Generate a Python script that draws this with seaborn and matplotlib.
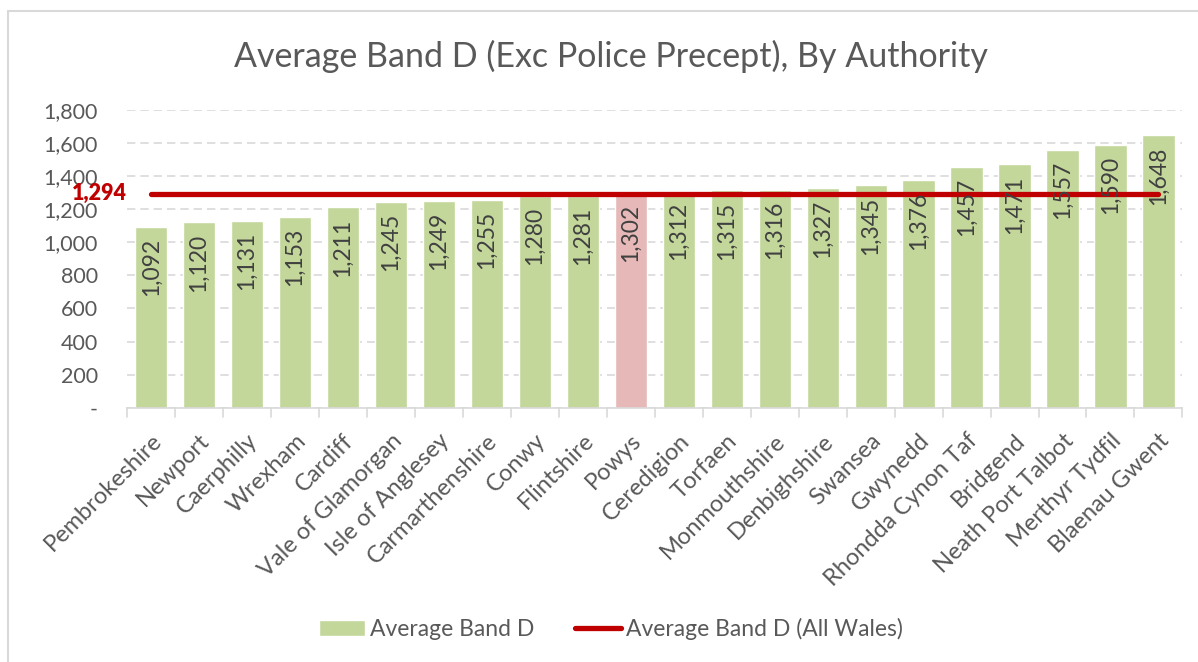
import numpy as np
import pandas as pd
import seaborn as sns
import matplotlib.pyplot as plt
from matplotlib.patches import Rectangle
from matplotlib.lines import Line2D
from matplotlib.ticker import FuncFormatter, FixedLocator

authorities = ['Pembrokeshire', 'Newport', 'Caerphilly', 'Wrexham', 'Cardiff',
               'Vale of Glamorgan', 'Isle of Anglesey', 'Carmarthenshire', 'Conwy',
               'Flintshire', 'Powys', 'Ceredigion', 'Torfaen', 'Monmouthshire',
               'Denbighshire', 'Swansea', 'Gwynedd', 'Rhondda Cynon Taf', 'Bridgend',
               'Neath Port Talbot', 'Merthyr Tydfil', 'Blaenau Gwent']
band_d = [1092, 1120, 1131, 1153, 1211, 1245, 1249, 1255, 1280, 1281, 1302,
          1312, 1315, 1316, 1327, 1345, 1376, 1457, 1471, 1557, 1590, 1648]
all_wales = 1294
highlight = 'Powys'

green = '#C4D79B'
pink = '#E6B9B8'
red = '#C00000'
grey_txt = '#595959'

sns.set_style('white')
plt.rcParams['font.family'] = ['Lato', 'DejaVu Sans']

df = pd.DataFrame({'Authority': authorities, 'Band D': band_d})
palette = {a: (pink if a == highlight else green) for a in authorities}

fig = plt.figure(figsize=(11.98, 6.62), dpi=100)
ax = fig.add_axes([0.106, 0.384, 0.881, 0.45])

sns.barplot(data=df, x='Authority', y='Band D', hue='Authority', palette=palette,
            legend=False, width=0.67, saturation=1, ax=ax, zorder=2)

pos = np.arange(len(authorities))
sns.lineplot(x=pos, y=[all_wales] * len(pos), color=red, linewidth=3.8,
             solid_capstyle='round', ax=ax, zorder=4)

for i, v in enumerate(band_d):
    ax.annotate(f'{v:,}', (i, v), xytext=(0, -8), textcoords='offset points',
                rotation=90, ha='center', va='top', fontsize=16.5, color='#404040', zorder=5)

ax.text(-0.5, all_wales, f'{all_wales:,}', color=red, fontsize=15.5, fontweight='heavy',
        ha='right', va='center', transform=ax.transData, zorder=5)

ax.set_ylim(0, 1800)
ax.set_xlim(-0.5, len(authorities) - 0.5)
ax.yaxis.set_major_locator(FixedLocator(range(0, 1801, 200)))
ax.yaxis.set_major_formatter(FuncFormatter(lambda v, p: '-' if v == 0 else f'{int(v):,}'))
ax.grid(axis='y', color='#D9D9D9', linestyle=(0, (5, 3)), linewidth=1.2, zorder=0)
ax.set_axisbelow(True)
for s in ['top', 'right', 'left']:
    ax.spines[s].set_visible(False)
ax.spines['bottom'].set_color('#D9D9D9')
ax.spines['bottom'].set_linewidth(1.2)

ax.tick_params(axis='y', length=0, labelsize=15.5, labelcolor=grey_txt, pad=21)
ax.set_xticks(pos)
ax.set_xticklabels(authorities, rotation=45, ha='right', rotation_mode='anchor',
                   fontsize=17, color=grey_txt)
ax.tick_params(axis='x', length=0, pad=16)
for b in np.arange(-0.5, len(authorities), 1.0):
    ax.plot([b, b], [0, -0.03], color='#D9D9D9', lw=1.2,
            transform=ax.get_xaxis_transform(), clip_on=False)
ax.set_xlabel('')
ax.set_ylabel('')

fig.text(0.51, 0.915, 'Average Band D (Exc Police Precept), By Authority',
         ha='center', va='center', fontsize=24.5, color=grey_txt)

handles = [Rectangle((0, 0), 1, 1, facecolor=green),
           Line2D([0], [0], color=red, linewidth=3.8, solid_capstyle='round')]
fig.legend(handles, ['Average Band D', 'Average Band D (All Wales)'],
           loc='center', bbox_to_anchor=(0.51, 0.05), ncol=2, frameon=False,
           fontsize=16.5, labelcolor=grey_txt, handlelength=2.0, handletextpad=0.2,
           columnspacing=1.8)

fig.patches.append(Rectangle((8 / 1198, -0.01), 1.2, 1 - 11 / 662 + 0.01,
                             transform=fig.transFigure, fill=False,
                             edgecolor='#D9D9D9', linewidth=1.5))

fig.savefig('out.png', dpi=100)
